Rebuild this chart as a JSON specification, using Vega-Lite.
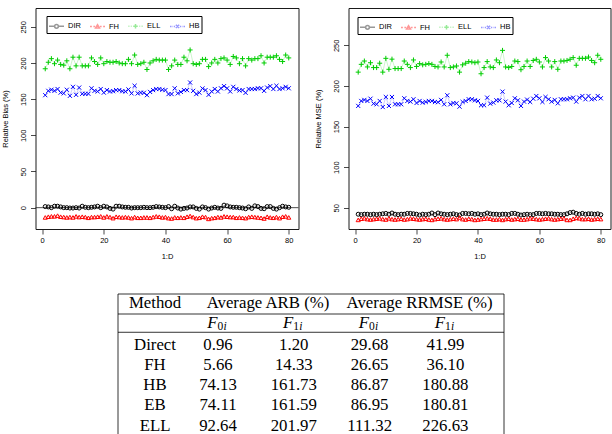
{
  "$schema": "https://vega.github.io/schema/vega-lite/v6.json",
  "padding": {"left": 0.5, "top": 7, "right": 0, "bottom": 0},
  "autosize": {"type": "pad"},
  "spacing": 32,
  "datasets": {
    "bias": [
      {"d":1,"method":"DIR","value":1.5},{"d":2,"method":"DIR","value":1},{"d":3,"method":"DIR","value":0},{"d":4,"method":"DIR","value":2},{"d":5,"method":"DIR","value":2},{"d":6,"method":"DIR","value":1},{"d":7,"method":"DIR","value":0},{"d":8,"method":"DIR","value":0},{"d":9,"method":"DIR","value":-0.5},{"d":10,"method":"DIR","value":-0.5},
      {"d":11,"method":"DIR","value":0},{"d":12,"method":"DIR","value":-0.5},{"d":13,"method":"DIR","value":2},{"d":14,"method":"DIR","value":0.5},{"d":15,"method":"DIR","value":0},{"d":16,"method":"DIR","value":0.5},{"d":17,"method":"DIR","value":1},{"d":18,"method":"DIR","value":2},{"d":19,"method":"DIR","value":0},{"d":20,"method":"DIR","value":2},
      {"d":21,"method":"DIR","value":1},{"d":22,"method":"DIR","value":-1},{"d":23,"method":"DIR","value":-2},{"d":24,"method":"DIR","value":2},{"d":25,"method":"DIR","value":2},{"d":26,"method":"DIR","value":1},{"d":27,"method":"DIR","value":0.5},{"d":28,"method":"DIR","value":0.5},{"d":29,"method":"DIR","value":-0.5},{"d":30,"method":"DIR","value":0},
      {"d":31,"method":"DIR","value":0},{"d":32,"method":"DIR","value":0},{"d":33,"method":"DIR","value":0.5},{"d":34,"method":"DIR","value":0},{"d":35,"method":"DIR","value":0},{"d":36,"method":"DIR","value":0.5},{"d":37,"method":"DIR","value":1.5},{"d":38,"method":"DIR","value":1},{"d":39,"method":"DIR","value":0.5},{"d":40,"method":"DIR","value":0},
      {"d":41,"method":"DIR","value":1.5},{"d":42,"method":"DIR","value":-1.5},{"d":43,"method":"DIR","value":2},{"d":44,"method":"DIR","value":-0.5},{"d":45,"method":"DIR","value":-2},{"d":46,"method":"DIR","value":-1},{"d":47,"method":"DIR","value":-0.5},{"d":48,"method":"DIR","value":1},{"d":49,"method":"DIR","value":1},{"d":50,"method":"DIR","value":-1},
      {"d":51,"method":"DIR","value":-2},{"d":52,"method":"DIR","value":1},{"d":53,"method":"DIR","value":0},{"d":54,"method":"DIR","value":-2},{"d":55,"method":"DIR","value":-0.5},{"d":56,"method":"DIR","value":0.5},{"d":57,"method":"DIR","value":-0.5},{"d":58,"method":"DIR","value":-1},{"d":59,"method":"DIR","value":3.5},{"d":60,"method":"DIR","value":2.5},
      {"d":61,"method":"DIR","value":1},{"d":62,"method":"DIR","value":0.5},{"d":63,"method":"DIR","value":0.5},{"d":64,"method":"DIR","value":0},{"d":65,"method":"DIR","value":-0.5},{"d":66,"method":"DIR","value":-1.5},{"d":67,"method":"DIR","value":1},{"d":68,"method":"DIR","value":-1},{"d":69,"method":"DIR","value":2.5},{"d":70,"method":"DIR","value":1.5},
      {"d":71,"method":"DIR","value":-1},{"d":72,"method":"DIR","value":-1.5},{"d":73,"method":"DIR","value":1.5},{"d":74,"method":"DIR","value":1.5},{"d":75,"method":"DIR","value":-1},{"d":76,"method":"DIR","value":-2},{"d":77,"method":"DIR","value":0},{"d":78,"method":"DIR","value":2},{"d":79,"method":"DIR","value":1},{"d":80,"method":"DIR","value":0.5},
      {"d":1,"method":"FH","value":-13.5},{"d":2,"method":"FH","value":-12.5},{"d":3,"method":"FH","value":-12},{"d":4,"method":"FH","value":-12},{"d":5,"method":"FH","value":-11},{"d":6,"method":"FH","value":-12.5},{"d":7,"method":"FH","value":-13},{"d":8,"method":"FH","value":-13.5},{"d":9,"method":"FH","value":-13},{"d":10,"method":"FH","value":-13.5},
      {"d":11,"method":"FH","value":-12},{"d":12,"method":"FH","value":-13},{"d":13,"method":"FH","value":-12.5},{"d":14,"method":"FH","value":-13},{"d":15,"method":"FH","value":-14},{"d":16,"method":"FH","value":-13},{"d":17,"method":"FH","value":-13},{"d":18,"method":"FH","value":-12.5},{"d":19,"method":"FH","value":-12},{"d":20,"method":"FH","value":-13.5},
      {"d":21,"method":"FH","value":-12},{"d":22,"method":"FH","value":-13},{"d":23,"method":"FH","value":-14.5},{"d":24,"method":"FH","value":-12.5},{"d":25,"method":"FH","value":-13},{"d":26,"method":"FH","value":-13.5},{"d":27,"method":"FH","value":-13},{"d":28,"method":"FH","value":-13.5},{"d":29,"method":"FH","value":-14.5},{"d":30,"method":"FH","value":-13},
      {"d":31,"method":"FH","value":-14},{"d":32,"method":"FH","value":-14},{"d":33,"method":"FH","value":-13.5},{"d":34,"method":"FH","value":-13.5},{"d":35,"method":"FH","value":-14},{"d":36,"method":"FH","value":-13},{"d":37,"method":"FH","value":-12},{"d":38,"method":"FH","value":-12.5},{"d":39,"method":"FH","value":-13.5},{"d":40,"method":"FH","value":-13},
      {"d":41,"method":"FH","value":-14.5},{"d":42,"method":"FH","value":-15},{"d":43,"method":"FH","value":-13.5},{"d":44,"method":"FH","value":-14},{"d":45,"method":"FH","value":-13.5},{"d":46,"method":"FH","value":-14},{"d":47,"method":"FH","value":-12.5},{"d":48,"method":"FH","value":-11.5},{"d":49,"method":"FH","value":-13},{"d":50,"method":"FH","value":-14.5},
      {"d":51,"method":"FH","value":-14},{"d":52,"method":"FH","value":-12.5},{"d":53,"method":"FH","value":-13},{"d":54,"method":"FH","value":-15.5},{"d":55,"method":"FH","value":-14.5},{"d":56,"method":"FH","value":-14},{"d":57,"method":"FH","value":-13},{"d":58,"method":"FH","value":-13.5},{"d":59,"method":"FH","value":-12},{"d":60,"method":"FH","value":-12.5},
      {"d":61,"method":"FH","value":-13},{"d":62,"method":"FH","value":-13},{"d":63,"method":"FH","value":-14},{"d":64,"method":"FH","value":-13.5},{"d":65,"method":"FH","value":-14},{"d":66,"method":"FH","value":-14.5},{"d":67,"method":"FH","value":-13},{"d":68,"method":"FH","value":-12.5},{"d":69,"method":"FH","value":-13},{"d":70,"method":"FH","value":-13.5},
      {"d":71,"method":"FH","value":-14},{"d":72,"method":"FH","value":-15},{"d":73,"method":"FH","value":-12.5},{"d":74,"method":"FH","value":-13.5},{"d":75,"method":"FH","value":-14},{"d":76,"method":"FH","value":-13},{"d":77,"method":"FH","value":-14.5},{"d":78,"method":"FH","value":-12.5},{"d":79,"method":"FH","value":-12},{"d":80,"method":"FH","value":-13.5},
      {"d":1,"method":"ELL","value":192},{"d":2,"method":"ELL","value":201},{"d":3,"method":"ELL","value":206},{"d":4,"method":"ELL","value":199},{"d":5,"method":"ELL","value":204},{"d":6,"method":"ELL","value":198},{"d":7,"method":"ELL","value":197},{"d":8,"method":"ELL","value":203},{"d":9,"method":"ELL","value":192},{"d":10,"method":"ELL","value":208},
      {"d":11,"method":"ELL","value":196},{"d":12,"method":"ELL","value":208},{"d":13,"method":"ELL","value":196},{"d":14,"method":"ELL","value":196},{"d":15,"method":"ELL","value":196},{"d":16,"method":"ELL","value":207},{"d":17,"method":"ELL","value":202},{"d":18,"method":"ELL","value":198},{"d":19,"method":"ELL","value":207},{"d":20,"method":"ELL","value":199},
      {"d":21,"method":"ELL","value":202},{"d":22,"method":"ELL","value":201},{"d":23,"method":"ELL","value":201},{"d":24,"method":"ELL","value":202},{"d":25,"method":"ELL","value":200},{"d":26,"method":"ELL","value":199},{"d":27,"method":"ELL","value":199},{"d":28,"method":"ELL","value":205},{"d":29,"method":"ELL","value":199},{"d":30,"method":"ELL","value":211},
      {"d":31,"method":"ELL","value":198},{"d":32,"method":"ELL","value":199},{"d":33,"method":"ELL","value":201},{"d":34,"method":"ELL","value":191},{"d":35,"method":"ELL","value":200},{"d":36,"method":"ELL","value":203},{"d":37,"method":"ELL","value":205},{"d":38,"method":"ELL","value":204},{"d":39,"method":"ELL","value":204},{"d":40,"method":"ELL","value":204},
      {"d":41,"method":"ELL","value":191},{"d":42,"method":"ELL","value":196},{"d":43,"method":"ELL","value":204},{"d":44,"method":"ELL","value":198},{"d":45,"method":"ELL","value":198},{"d":46,"method":"ELL","value":208},{"d":47,"method":"ELL","value":203},{"d":48,"method":"ELL","value":218},{"d":49,"method":"ELL","value":199},{"d":50,"method":"ELL","value":198},
      {"d":51,"method":"ELL","value":199},{"d":52,"method":"ELL","value":205},{"d":53,"method":"ELL","value":205},{"d":54,"method":"ELL","value":195},{"d":55,"method":"ELL","value":200},{"d":56,"method":"ELL","value":205},{"d":57,"method":"ELL","value":200},{"d":58,"method":"ELL","value":206},{"d":59,"method":"ELL","value":207},{"d":60,"method":"ELL","value":204},
      {"d":61,"method":"ELL","value":198},{"d":62,"method":"ELL","value":209},{"d":63,"method":"ELL","value":207},{"d":64,"method":"ELL","value":199},{"d":65,"method":"ELL","value":206},{"d":66,"method":"ELL","value":196},{"d":67,"method":"ELL","value":206},{"d":68,"method":"ELL","value":204},{"d":69,"method":"ELL","value":206},{"d":70,"method":"ELL","value":206},
      {"d":71,"method":"ELL","value":210},{"d":72,"method":"ELL","value":200},{"d":73,"method":"ELL","value":208},{"d":74,"method":"ELL","value":208},{"d":75,"method":"ELL","value":208},{"d":76,"method":"ELL","value":210},{"d":77,"method":"ELL","value":205},{"d":78,"method":"ELL","value":202},{"d":79,"method":"ELL","value":211},{"d":80,"method":"ELL","value":207},
      {"d":1,"method":"HB","value":155.5},{"d":2,"method":"HB","value":161.5},{"d":3,"method":"HB","value":163},{"d":4,"method":"HB","value":161.5},{"d":5,"method":"HB","value":164},{"d":6,"method":"HB","value":159},{"d":7,"method":"HB","value":158},{"d":8,"method":"HB","value":163},{"d":9,"method":"HB","value":154.6},{"d":10,"method":"HB","value":167},
      {"d":11,"method":"HB","value":156},{"d":12,"method":"HB","value":166},{"d":13,"method":"HB","value":157.4},{"d":14,"method":"HB","value":157.4},{"d":15,"method":"HB","value":157.4},{"d":16,"method":"HB","value":165},{"d":17,"method":"HB","value":161.5},{"d":18,"method":"HB","value":160.6},{"d":19,"method":"HB","value":164},{"d":20,"method":"HB","value":159},
      {"d":21,"method":"HB","value":162.5},{"d":22,"method":"HB","value":160.6},{"d":23,"method":"HB","value":161},{"d":24,"method":"HB","value":162.5},{"d":25,"method":"HB","value":162.5},{"d":26,"method":"HB","value":161},{"d":27,"method":"HB","value":160.6},{"d":28,"method":"HB","value":163.4},{"d":29,"method":"HB","value":158},{"d":30,"method":"HB","value":168.5},
      {"d":31,"method":"HB","value":157.9},{"d":32,"method":"HB","value":159},{"d":33,"method":"HB","value":158.8},{"d":34,"method":"HB","value":155.5},{"d":35,"method":"HB","value":160},{"d":36,"method":"HB","value":162.5},{"d":37,"method":"HB","value":164},{"d":38,"method":"HB","value":164},{"d":39,"method":"HB","value":163},{"d":40,"method":"HB","value":162.5},
      {"d":41,"method":"HB","value":157},{"d":42,"method":"HB","value":157},{"d":43,"method":"HB","value":165},{"d":44,"method":"HB","value":158},{"d":45,"method":"HB","value":160},{"d":46,"method":"HB","value":162.5},{"d":47,"method":"HB","value":162.5},{"d":48,"method":"HB","value":173},{"d":49,"method":"HB","value":161.5},{"d":50,"method":"HB","value":157},
      {"d":51,"method":"HB","value":159},{"d":52,"method":"HB","value":164.8},{"d":53,"method":"HB","value":162.5},{"d":54,"method":"HB","value":156},{"d":55,"method":"HB","value":160.6},{"d":56,"method":"HB","value":164},{"d":57,"method":"HB","value":160.6},{"d":58,"method":"HB","value":165},{"d":59,"method":"HB","value":168},{"d":60,"method":"HB","value":165},
      {"d":61,"method":"HB","value":160.6},{"d":62,"method":"HB","value":167},{"d":63,"method":"HB","value":164},{"d":64,"method":"HB","value":162},{"d":65,"method":"HB","value":162.5},{"d":66,"method":"HB","value":158.8},{"d":67,"method":"HB","value":164},{"d":68,"method":"HB","value":164},{"d":69,"method":"HB","value":164},{"d":70,"method":"HB","value":165},
      {"d":71,"method":"HB","value":165},{"d":72,"method":"HB","value":161.5},{"d":73,"method":"HB","value":166},{"d":74,"method":"HB","value":168},{"d":75,"method":"HB","value":164},{"d":76,"method":"HB","value":168.5},{"d":77,"method":"HB","value":164},{"d":78,"method":"HB","value":165},{"d":79,"method":"HB","value":167},{"d":80,"method":"HB","value":165}
    ],
    "mse": [
      {"d":1,"method":"DIR","value":42},{"d":2,"method":"DIR","value":41.5},{"d":3,"method":"DIR","value":42},{"d":4,"method":"DIR","value":42},{"d":5,"method":"DIR","value":41.5},{"d":6,"method":"DIR","value":42},{"d":7,"method":"DIR","value":41.5},{"d":8,"method":"DIR","value":42},{"d":9,"method":"DIR","value":42.5},{"d":10,"method":"DIR","value":43},
      {"d":11,"method":"DIR","value":42},{"d":12,"method":"DIR","value":43.5},{"d":13,"method":"DIR","value":42},{"d":14,"method":"DIR","value":41.5},{"d":15,"method":"DIR","value":42},{"d":16,"method":"DIR","value":42},{"d":17,"method":"DIR","value":43},{"d":18,"method":"DIR","value":43},{"d":19,"method":"DIR","value":42.5},{"d":20,"method":"DIR","value":42},
      {"d":21,"method":"DIR","value":41},{"d":22,"method":"DIR","value":42},{"d":23,"method":"DIR","value":41.5},{"d":24,"method":"DIR","value":42},{"d":25,"method":"DIR","value":43.5},{"d":26,"method":"DIR","value":41.5},{"d":27,"method":"DIR","value":43.5},{"d":28,"method":"DIR","value":42.5},{"d":29,"method":"DIR","value":42},{"d":30,"method":"DIR","value":41.5},
      {"d":31,"method":"DIR","value":42},{"d":32,"method":"DIR","value":42.5},{"d":33,"method":"DIR","value":41.5},{"d":34,"method":"DIR","value":41},{"d":35,"method":"DIR","value":43},{"d":36,"method":"DIR","value":43},{"d":37,"method":"DIR","value":42.5},{"d":38,"method":"DIR","value":43},{"d":39,"method":"DIR","value":42},{"d":40,"method":"DIR","value":42.5},
      {"d":41,"method":"DIR","value":41.5},{"d":42,"method":"DIR","value":42},{"d":43,"method":"DIR","value":43.5},{"d":44,"method":"DIR","value":42.5},{"d":45,"method":"DIR","value":42},{"d":46,"method":"DIR","value":42},{"d":47,"method":"DIR","value":41.5},{"d":48,"method":"DIR","value":42},{"d":49,"method":"DIR","value":42},{"d":50,"method":"DIR","value":41.5},
      {"d":51,"method":"DIR","value":43},{"d":52,"method":"DIR","value":43},{"d":53,"method":"DIR","value":42},{"d":54,"method":"DIR","value":41},{"d":55,"method":"DIR","value":41.5},{"d":56,"method":"DIR","value":42},{"d":57,"method":"DIR","value":41.5},{"d":58,"method":"DIR","value":41.5},{"d":59,"method":"DIR","value":43},{"d":60,"method":"DIR","value":43},
      {"d":61,"method":"DIR","value":42.5},{"d":62,"method":"DIR","value":43},{"d":63,"method":"DIR","value":42.5},{"d":64,"method":"DIR","value":42.5},{"d":65,"method":"DIR","value":42},{"d":66,"method":"DIR","value":42},{"d":67,"method":"DIR","value":41.5},{"d":68,"method":"DIR","value":41.5},{"d":69,"method":"DIR","value":42.5},{"d":70,"method":"DIR","value":44},
      {"d":71,"method":"DIR","value":44.5},{"d":72,"method":"DIR","value":43},{"d":73,"method":"DIR","value":42},{"d":74,"method":"DIR","value":43},{"d":75,"method":"DIR","value":42},{"d":76,"method":"DIR","value":42.5},{"d":77,"method":"DIR","value":42.5},{"d":78,"method":"DIR","value":42},{"d":79,"method":"DIR","value":42.5},{"d":80,"method":"DIR","value":41.5},
      {"d":1,"method":"FH","value":35},{"d":2,"method":"FH","value":36.5},{"d":3,"method":"FH","value":37},{"d":4,"method":"FH","value":36},{"d":5,"method":"FH","value":35.5},{"d":6,"method":"FH","value":36},{"d":7,"method":"FH","value":36.5},{"d":8,"method":"FH","value":37},{"d":9,"method":"FH","value":36},{"d":10,"method":"FH","value":35.5},
      {"d":11,"method":"FH","value":37},{"d":12,"method":"FH","value":36},{"d":13,"method":"FH","value":35.5},{"d":14,"method":"FH","value":36},{"d":15,"method":"FH","value":36.5},{"d":16,"method":"FH","value":35.5},{"d":17,"method":"FH","value":36},{"d":18,"method":"FH","value":37},{"d":19,"method":"FH","value":36.5},{"d":20,"method":"FH","value":36},
      {"d":21,"method":"FH","value":35.5},{"d":22,"method":"FH","value":36},{"d":23,"method":"FH","value":36.5},{"d":24,"method":"FH","value":35.5},{"d":25,"method":"FH","value":35},{"d":26,"method":"FH","value":36},{"d":27,"method":"FH","value":36.5},{"d":28,"method":"FH","value":37},{"d":29,"method":"FH","value":36},{"d":30,"method":"FH","value":35.5},
      {"d":31,"method":"FH","value":36},{"d":32,"method":"FH","value":36.5},{"d":33,"method":"FH","value":36},{"d":34,"method":"FH","value":38},{"d":35,"method":"FH","value":36},{"d":36,"method":"FH","value":35.5},{"d":37,"method":"FH","value":36.5},{"d":38,"method":"FH","value":36},{"d":39,"method":"FH","value":35},{"d":40,"method":"FH","value":35.5},
      {"d":41,"method":"FH","value":36},{"d":42,"method":"FH","value":36.5},{"d":43,"method":"FH","value":37},{"d":44,"method":"FH","value":36.5},{"d":45,"method":"FH","value":35.5},{"d":46,"method":"FH","value":35.5},{"d":47,"method":"FH","value":36},{"d":48,"method":"FH","value":35},{"d":49,"method":"FH","value":36},{"d":50,"method":"FH","value":36.5},
      {"d":51,"method":"FH","value":35.5},{"d":52,"method":"FH","value":36},{"d":53,"method":"FH","value":36.5},{"d":54,"method":"FH","value":35.5},{"d":55,"method":"FH","value":35.5},{"d":56,"method":"FH","value":36},{"d":57,"method":"FH","value":37},{"d":58,"method":"FH","value":36.5},{"d":59,"method":"FH","value":36},{"d":60,"method":"FH","value":35.5},
      {"d":61,"method":"FH","value":36},{"d":62,"method":"FH","value":36.5},{"d":63,"method":"FH","value":37},{"d":64,"method":"FH","value":36},{"d":65,"method":"FH","value":35.5},{"d":66,"method":"FH","value":36},{"d":67,"method":"FH","value":36.5},{"d":68,"method":"FH","value":37},{"d":69,"method":"FH","value":35},{"d":70,"method":"FH","value":35},
      {"d":71,"method":"FH","value":36.5},{"d":72,"method":"FH","value":37.5},{"d":73,"method":"FH","value":37},{"d":74,"method":"FH","value":36},{"d":75,"method":"FH","value":36},{"d":76,"method":"FH","value":36.5},{"d":77,"method":"FH","value":35.5},{"d":78,"method":"FH","value":36},{"d":79,"method":"FH","value":36.5},{"d":80,"method":"FH","value":36},
      {"d":1,"method":"ELL","value":217},{"d":2,"method":"ELL","value":226.6},{"d":3,"method":"ELL","value":230.7},{"d":4,"method":"ELL","value":223.4},{"d":5,"method":"ELL","value":228.6},{"d":6,"method":"ELL","value":222.6},{"d":7,"method":"ELL","value":222.6},{"d":8,"method":"ELL","value":228},{"d":9,"method":"ELL","value":217},{"d":10,"method":"ELL","value":234},
      {"d":11,"method":"ELL","value":220.5},{"d":12,"method":"ELL","value":233},{"d":13,"method":"ELL","value":221.4},{"d":14,"method":"ELL","value":221.4},{"d":15,"method":"ELL","value":221.4},{"d":16,"method":"ELL","value":230.7},{"d":17,"method":"ELL","value":226.6},{"d":18,"method":"ELL","value":222.6},{"d":19,"method":"ELL","value":232},{"d":20,"method":"ELL","value":224},
      {"d":21,"method":"ELL","value":227.5},{"d":22,"method":"ELL","value":226},{"d":23,"method":"ELL","value":226.6},{"d":24,"method":"ELL","value":227.5},{"d":25,"method":"ELL","value":226.6},{"d":26,"method":"ELL","value":224},{"d":27,"method":"ELL","value":223.4},{"d":28,"method":"ELL","value":229.5},{"d":29,"method":"ELL","value":223.4},{"d":30,"method":"ELL","value":237.8},
      {"d":31,"method":"ELL","value":222.6},{"d":32,"method":"ELL","value":223.4},{"d":33,"method":"ELL","value":224.6},{"d":34,"method":"ELL","value":217},{"d":35,"method":"ELL","value":226},{"d":36,"method":"ELL","value":228},{"d":37,"method":"ELL","value":230},{"d":38,"method":"ELL","value":229.5},{"d":39,"method":"ELL","value":228.6},{"d":40,"method":"ELL","value":229.5},
      {"d":41,"method":"ELL","value":215},{"d":42,"method":"ELL","value":222.6},{"d":43,"method":"ELL","value":230},{"d":44,"method":"ELL","value":223.4},{"d":45,"method":"ELL","value":222.6},{"d":46,"method":"ELL","value":232},{"d":47,"method":"ELL","value":228.6},{"d":48,"method":"ELL","value":243.8},{"d":49,"method":"ELL","value":223.4},{"d":50,"method":"ELL","value":222.6},
      {"d":51,"method":"ELL","value":224},{"d":52,"method":"ELL","value":230.7},{"d":53,"method":"ELL","value":230},{"d":54,"method":"ELL","value":220},{"d":55,"method":"ELL","value":224},{"d":56,"method":"ELL","value":230.7},{"d":57,"method":"ELL","value":224},{"d":58,"method":"ELL","value":231.4},{"d":59,"method":"ELL","value":232.8},{"d":60,"method":"ELL","value":229.5},
      {"d":61,"method":"ELL","value":223.4},{"d":62,"method":"ELL","value":234.9},{"d":63,"method":"ELL","value":230.7},{"d":64,"method":"ELL","value":223.4},{"d":65,"method":"ELL","value":230},{"d":66,"method":"ELL","value":220.5},{"d":67,"method":"ELL","value":230.7},{"d":68,"method":"ELL","value":230.7},{"d":69,"method":"ELL","value":231.4},{"d":70,"method":"ELL","value":232.8},
      {"d":71,"method":"ELL","value":234.9},{"d":72,"method":"ELL","value":225.5},{"d":73,"method":"ELL","value":234},{"d":74,"method":"ELL","value":234},{"d":75,"method":"ELL","value":234},{"d":76,"method":"ELL","value":235.6},{"d":77,"method":"ELL","value":231.4},{"d":78,"method":"ELL","value":228.6},{"d":79,"method":"ELL","value":237.8},{"d":80,"method":"ELL","value":232.8},
      {"d":1,"method":"HB","value":175.4},{"d":2,"method":"HB","value":181.5},{"d":3,"method":"HB","value":182.8},{"d":4,"method":"HB","value":181.5},{"d":5,"method":"HB","value":184.3},{"d":6,"method":"HB","value":178.2},{"d":7,"method":"HB","value":177.4},{"d":8,"method":"HB","value":181.5},{"d":9,"method":"HB","value":174},{"d":10,"method":"HB","value":186.4},
      {"d":11,"method":"HB","value":175.4},{"d":12,"method":"HB","value":186.4},{"d":13,"method":"HB","value":177.4},{"d":14,"method":"HB","value":177.4},{"d":15,"method":"HB","value":177.4},{"d":16,"method":"HB","value":184.8},{"d":17,"method":"HB","value":181.5},{"d":18,"method":"HB","value":180.7},{"d":19,"method":"HB","value":183.6},{"d":20,"method":"HB","value":179},
      {"d":21,"method":"HB","value":181.5},{"d":22,"method":"HB","value":179.5},{"d":23,"method":"HB","value":180.3},{"d":24,"method":"HB","value":181.5},{"d":25,"method":"HB","value":181.5},{"d":26,"method":"HB","value":180.3},{"d":27,"method":"HB","value":179.9},{"d":28,"method":"HB","value":182.8},{"d":29,"method":"HB","value":177.4},{"d":30,"method":"HB","value":188.5},
      {"d":31,"method":"HB","value":177.4},{"d":32,"method":"HB","value":179},{"d":33,"method":"HB","value":178.6},{"d":34,"method":"HB","value":174.5},{"d":35,"method":"HB","value":180.3},{"d":36,"method":"HB","value":181.5},{"d":37,"method":"HB","value":183.6},{"d":38,"method":"HB","value":183.6},{"d":39,"method":"HB","value":182.3},{"d":40,"method":"HB","value":181.5},
      {"d":41,"method":"HB","value":176.2},{"d":42,"method":"HB","value":176.2},{"d":43,"method":"HB","value":185.6},{"d":44,"method":"HB","value":178.2},{"d":45,"method":"HB","value":179.5},{"d":46,"method":"HB","value":182.3},{"d":47,"method":"HB","value":182.3},{"d":48,"method":"HB","value":193},{"d":49,"method":"HB","value":180.7},{"d":50,"method":"HB","value":176.2},
      {"d":51,"method":"HB","value":179},{"d":52,"method":"HB","value":184.8},{"d":53,"method":"HB","value":182.3},{"d":54,"method":"HB","value":175.4},{"d":55,"method":"HB","value":180.7},{"d":56,"method":"HB","value":183.2},{"d":57,"method":"HB","value":180.3},{"d":58,"method":"HB","value":184.3},{"d":59,"method":"HB","value":187.6},{"d":60,"method":"HB","value":184.8},
      {"d":61,"method":"HB","value":180.3},{"d":62,"method":"HB","value":186.4},{"d":63,"method":"HB","value":183.6},{"d":64,"method":"HB","value":180.7},{"d":65,"method":"HB","value":182.8},{"d":66,"method":"HB","value":178.6},{"d":67,"method":"HB","value":183.6},{"d":68,"method":"HB","value":183.6},{"d":69,"method":"HB","value":183.6},{"d":70,"method":"HB","value":184.8},
      {"d":71,"method":"HB","value":185.6},{"d":72,"method":"HB","value":180.7},{"d":73,"method":"HB","value":185.6},{"d":74,"method":"HB","value":187.6},{"d":75,"method":"HB","value":183.6},{"d":76,"method":"HB","value":187.6},{"d":77,"method":"HB","value":183.6},{"d":78,"method":"HB","value":184.3},{"d":79,"method":"HB","value":187.6},{"d":80,"method":"HB","value":184.8}
    ],
    "table": [
      {"method":"Direct","col":"ARB_F0","value":"0.96"},{"method":"Direct","col":"ARB_F1","value":"1.20"},{"method":"Direct","col":"RRMSE_F0","value":"29.68"},{"method":"Direct","col":"RRMSE_F1","value":"41.99"},
      {"method":"FH","col":"ARB_F0","value":"5.66"},{"method":"FH","col":"ARB_F1","value":"14.33"},{"method":"FH","col":"RRMSE_F0","value":"26.65"},{"method":"FH","col":"RRMSE_F1","value":"36.10"},
      {"method":"HB","col":"ARB_F0","value":"74.13"},{"method":"HB","col":"ARB_F1","value":"161.73"},{"method":"HB","col":"RRMSE_F0","value":"86.87"},{"method":"HB","col":"RRMSE_F1","value":"180.88"},
      {"method":"EB","col":"ARB_F0","value":"74.11"},{"method":"EB","col":"ARB_F1","value":"161.59"},{"method":"EB","col":"RRMSE_F0","value":"86.95"},{"method":"EB","col":"RRMSE_F1","value":"180.81"},
      {"method":"ELL","col":"ARB_F0","value":"92.64"},{"method":"ELL","col":"ARB_F1","value":"201.97"},{"method":"ELL","col":"RRMSE_F0","value":"111.32"},{"method":"ELL","col":"RRMSE_F1","value":"226.63"}
    ]
  },
  "vconcat": [
    {
      "resolve": {"scale": {"color": "independent", "shape": "independent"}},
      "hconcat": [
        {
          "width": 263,
          "height": 221,
          "data": {"name": "bias"},
          "layer": [
            {
              "data": {"values": [{}]},
              "mark": {"type": "rule", "color": "#222", "strokeWidth": 0.8},
              "encoding": {"y": {"datum": 0, "type": "quantitative"}}
            },
            {
              "encoding": {
                "x": {"field": "d", "type": "quantitative",
                  "scale": {"domain": [-2.16, 83.16], "nice": false, "zero": false},
                  "axis": {"values": [0, 20, 40, 60, 80], "title": "1:D"}},
                "y": {"field": "value", "type": "quantitative",
                  "scale": {"domain": [-29.5, 276], "nice": false, "zero": false},
                  "axis": {"values": [0, 50, 100, 150, 200, 250], "title": "Relative Bias (%)"}},
                "color": {"field": "method", "type": "nominal",
                  "scale": {"domain": ["DIR", "FH", "ELL", "HB"], "range": ["#000000", "#FF0000", "#00CD00", "#0000FF"]},
                  "legend": {
                    "title": null, "orient": "none", "legendX": 11, "legendY": 8, "direction": "horizontal",
                    "strokeColor": "#000", "padding": 1.5, "symbolSize": 225, "labelOffset": 3, "columnPadding": 6,
                    "labelFont": "Liberation Sans", "labelFontSize": 7.5, "labelColor": "#000",
                    "encode": {"symbols": {
                      "fill": {"value": "transparent"},
                      "size": {"value": 225},
                      "strokeWidth": {"value": 1},
                      "opacity": {"value": 1}
                    }}
                  }}
              },
              "layer": [
                {"mark": {"type": "line", "strokeWidth": 0.5, "opacity": 0.4}},
                {"transform": [{"filter": "datum.method === 'DIR'"}], "mark": {"type": "point", "shape": "circle", "size": 16, "filled": false, "strokeWidth": 1, "opacity": 1}},
                {"transform": [{"filter": "datum.method === 'FH'"}], "mark": {"type": "point", "shape": "triangle-up", "size": 17, "filled": false, "strokeWidth": 1, "opacity": 1}},
                {"transform": [{"filter": "datum.method === 'ELL'"}], "mark": {"type": "point", "shape": "M-1,0L1,0M0,-1L0,1", "size": 25, "filled": false, "strokeWidth": 1, "opacity": 1}},
                {"transform": [{"filter": "datum.method === 'HB'"}], "mark": {"type": "point", "shape": "M-1,-1L1,1M-1,1L1,-1", "size": 17, "filled": false, "strokeWidth": 1, "opacity": 1}},
                {
                  "transform": [{"filter": "false"}],
                  "mark": {"type": "point", "filled": false},
                  "encoding": {
                    "shape": {"field": "method", "type": "nominal",
                      "scale": {"domain": ["DIR", "FH", "ELL", "HB"], "range": [
                        "M-1,0L-0.27,0M0.27,0L1,0M-0.25,0A0.25,0.25 0 1,0 0.25,0A0.25,0.25 0 1,0 -0.25,0",
                        "M-1,0L-0.75,0M-0.55,0L-0.32,0M0.32,0L0.55,0M0.75,0L1,0M0,-0.24L0.26,0.2L-0.26,0.2Z",
                        "M-1,0L-0.93,0M-0.78,0L-0.71,0M-0.56,0L-0.49,0M0.49,0L0.56,0M0.71,0L0.78,0M0.93,0L1,0M-0.3,0L0.3,0M0,-0.3L0,0.3",
                        "M-1,0L-0.8,0M-0.68,0L-0.62,0M-0.5,0L-0.33,0M0.33,0L0.5,0M0.62,0L0.68,0M0.8,0L1,0M-0.22,-0.22L0.22,0.22M-0.22,0.22L0.22,-0.22"
                      ]}}
                  }
                }
              ]
            }
          ]
        },
        {
          "width": 262,
          "height": 221,
          "data": {"name": "mse"},
          "encoding": {
            "x": {"field": "d", "type": "quantitative",
              "scale": {"domain": [-2.16, 83.16], "nice": false, "zero": false},
              "axis": {"values": [0, 20, 40, 60, 80], "title": "1:D"}},
            "y": {"field": "value", "type": "quantitative",
              "scale": {"domain": [23.8, 296], "nice": false, "zero": false},
              "axis": {"values": [50, 100, 150, 200, 250], "title": "Relative MSE (%)"}},
            "color": {"field": "method", "type": "nominal",
              "scale": {"domain": ["DIR", "FH", "ELL", "HB"], "range": ["#000000", "#FF0000", "#00CD00", "#0000FF"]},
              "legend": {
                "title": null, "orient": "none", "legendX": 9, "legendY": 9, "direction": "horizontal",
                "strokeColor": "#000", "padding": 1.5, "symbolSize": 225, "labelOffset": 3, "columnPadding": 6,
                "labelFont": "Liberation Sans", "labelFontSize": 7.5, "labelColor": "#000",
                "encode": {"symbols": {
                  "fill": {"value": "transparent"},
                  "size": {"value": 225},
                  "strokeWidth": {"value": 1},
                  "opacity": {"value": 1}
                }}
              }}
          },
          "layer": [
            {"mark": {"type": "line", "strokeWidth": 0.5, "opacity": 0.4}},
            {"transform": [{"filter": "datum.method === 'DIR'"}], "mark": {"type": "point", "shape": "circle", "size": 16, "filled": false, "strokeWidth": 1, "opacity": 1}},
            {"transform": [{"filter": "datum.method === 'FH'"}], "mark": {"type": "point", "shape": "triangle-up", "size": 17, "filled": false, "strokeWidth": 1, "opacity": 1}},
            {"transform": [{"filter": "datum.method === 'ELL'"}], "mark": {"type": "point", "shape": "M-1,0L1,0M0,-1L0,1", "size": 25, "filled": false, "strokeWidth": 1, "opacity": 1}},
            {"transform": [{"filter": "datum.method === 'HB'"}], "mark": {"type": "point", "shape": "M-1,-1L1,1M-1,1L1,-1", "size": 17, "filled": false, "strokeWidth": 1, "opacity": 1}},
            {
              "transform": [{"filter": "false"}],
              "mark": {"type": "point", "filled": false},
              "encoding": {
                "shape": {"field": "method", "type": "nominal",
                  "scale": {"domain": ["DIR", "FH", "ELL", "HB"], "range": [
                    "M-1,0L-0.27,0M0.27,0L1,0M-0.25,0A0.25,0.25 0 1,0 0.25,0A0.25,0.25 0 1,0 -0.25,0",
                    "M-1,0L-0.75,0M-0.55,0L-0.32,0M0.32,0L0.55,0M0.75,0L1,0M0,-0.24L0.26,0.2L-0.26,0.2Z",
                    "M-1,0L-0.93,0M-0.78,0L-0.71,0M-0.56,0L-0.49,0M0.49,0L0.56,0M0.71,0L0.78,0M0.93,0L1,0M-0.3,0L0.3,0M0,-0.3L0,0.3",
                    "M-1,0L-0.8,0M-0.68,0L-0.62,0M-0.5,0L-0.33,0M0.33,0L0.5,0M0.62,0L0.68,0M0.8,0L1,0M-0.22,-0.22L0.22,0.22M-0.22,0.22L0.22,-0.22"
                  ]}}
              }
            }
          ]
        }
      ],
      "spacing": 14
    },
    {
      "width": 570,
      "height": 140,
      "view": {"stroke": null},
      "data": {"name": "table"},
      "layer": [
        {
          "data": {"values": [{}]},
          "mark": {"type": "rule", "color": "#000", "strokeWidth": 0.8, "xOffset": -100, "x2Offset": 58.6, "yOffset": -10.5},
          "encoding": {
            "x": {"datum": "ARB_F0", "type": "nominal", "scale": {"type": "point", "domain": ["ARB_F0", "ARB_F1", "RRMSE_F0", "RRMSE_F1"], "range": [182.5, 409.9], "padding": 0}, "axis": null},
            "x2": {"datum": "RRMSE_F1"},
            "y": {"datum": "head", "type": "nominal", "scale": {"type": "point", "domain": ["head", "sub", "Direct", "FH", "HB", "EB", "ELL"], "range": [10.5, 131.5], "padding": 0}, "axis": null}
          }
        },
        {
          "data": {"values": [{}]},
          "mark": {"type": "rule", "color": "#000", "strokeWidth": 0.8, "xOffset": -100, "x2Offset": 58.6, "yOffset": 9.5},
          "encoding": {
            "x": {"datum": "ARB_F0", "type": "nominal"},
            "x2": {"datum": "RRMSE_F1"},
            "y": {"datum": "head", "type": "nominal"}
          }
        },
        {
          "data": {"values": [{}]},
          "mark": {"type": "rule", "color": "#000", "strokeWidth": 0.8, "xOffset": -100, "x2Offset": 58.6, "yOffset": 7.6},
          "encoding": {
            "x": {"datum": "ARB_F0", "type": "nominal"},
            "x2": {"datum": "RRMSE_F1"},
            "y": {"datum": "sub", "type": "nominal"}
          }
        },
        {
          "data": {"values": [{}]},
          "mark": {"type": "rule", "color": "#000", "strokeWidth": 0.8, "xOffset": -100},
          "encoding": {"x": {"datum": "ARB_F0", "type": "nominal"}}
        },
        {
          "data": {"values": [{}]},
          "mark": {"type": "rule", "color": "#000", "strokeWidth": 0.8, "xOffset": 58.6},
          "encoding": {"x": {"datum": "RRMSE_F1", "type": "nominal"}}
        },
        {
          "data": {"values": [{}]},
          "mark": {"type": "text", "text": "Method", "dx": -63, "dy": -1.5, "font": "Liberation Serif", "fontSize": 16.8, "color": "#000", "baseline": "middle"},
          "encoding": {
            "x": {"datum": "ARB_F0", "type": "nominal"},
            "y": {"datum": "head", "type": "nominal"}
          }
        },
        {
          "data": {"values": [{"col": "ARB_F0", "label": "Average ARB (%)"}, {"col": "RRMSE_F0", "label": "Average RRMSE (%)"}]},
          "mark": {"type": "text", "dx": 50, "dy": -1.5, "font": "Liberation Serif", "fontSize": 16.8, "color": "#000", "baseline": "middle"},
          "encoding": {
            "x": {"field": "col", "type": "nominal"},
            "y": {"datum": "head", "type": "nominal"},
            "text": {"field": "label"}
          }
        },
        {
          "data": {"values": [{"col": "ARB_F0", "sub": "0"}, {"col": "ARB_F1", "sub": "1"}, {"col": "RRMSE_F0", "sub": "0"}, {"col": "RRMSE_F1", "sub": "1"}]},
          "layer": [
            {
              "mark": {"type": "text", "text": "F", "align": "right", "dx": -0.5, "dy": -2, "font": "Liberation Serif", "fontStyle": "italic", "fontSize": 16.8, "color": "#000", "baseline": "middle"},
              "encoding": {"x": {"field": "col", "type": "nominal"}, "y": {"datum": "sub", "type": "nominal"}}
            },
            {
              "mark": {"type": "text", "align": "left", "dx": -0.5, "dy": 2.5, "font": "Liberation Serif", "fontSize": 11.5, "color": "#000", "baseline": "middle"},
              "encoding": {"x": {"field": "col", "type": "nominal"}, "y": {"datum": "sub", "type": "nominal"}, "text": {"field": "sub"}}
            },
            {
              "mark": {"type": "text", "text": "i", "align": "left", "dx": 5.5, "dy": 2.5, "font": "Liberation Serif", "fontStyle": "italic", "fontSize": 11.5, "color": "#000", "baseline": "middle"},
              "encoding": {"x": {"field": "col", "type": "nominal"}, "y": {"datum": "sub", "type": "nominal"}}
            }
          ]
        },
        {
          "transform": [{"filter": "datum.col === 'ARB_F0'"}],
          "mark": {"type": "text", "dx": -63, "font": "Liberation Serif", "fontSize": 16.8, "color": "#000", "baseline": "middle"},
          "encoding": {
            "x": {"datum": "ARB_F0", "type": "nominal"},
            "y": {"field": "method", "type": "nominal"},
            "text": {"field": "method"}
          }
        },
        {
          "mark": {"type": "text", "font": "Liberation Serif", "fontSize": 16.8, "color": "#000", "baseline": "middle"},
          "encoding": {
            "x": {"field": "col", "type": "nominal"},
            "y": {"field": "method", "type": "nominal"},
            "text": {"field": "value"}
          }
        }
      ]
    }
  ],
  "config": {
    "view": {"stroke": "#1a1a1a", "strokeWidth": 1},
    "axis": {
      "grid": false, "domain": false, "ticks": true, "tickColor": "#1a1a1a", "tickSize": 5, "tickWidth": 0.8,
      "labelFont": "Liberation Sans", "labelFontSize": 7.5, "labelColor": "#000", "labelFlush": false, "labelOverlap": false,
      "titleFont": "Liberation Sans", "titleFontSize": 7.5, "titleFontWeight": "normal", "titleColor": "#000"
    },
    "axisY": {"labelAngle": -90, "labelAlign": "center", "labelBaseline": "bottom", "labelPadding": 3, "titlePadding": 10},
    "axisX": {"labelPadding": 2, "titlePadding": 9}
  }
}
